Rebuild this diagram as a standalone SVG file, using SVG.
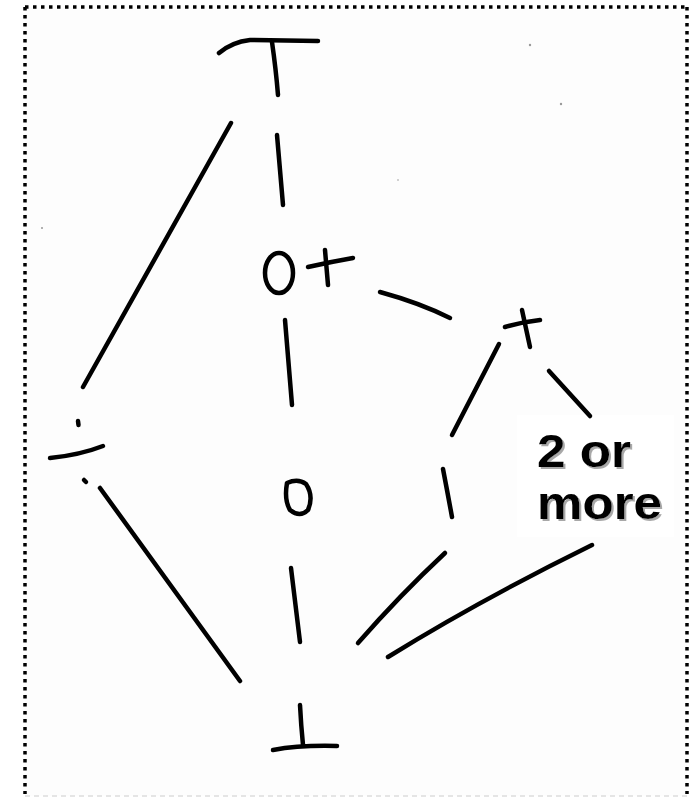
<svg xmlns="http://www.w3.org/2000/svg" width="691" height="797" viewBox="0 0 691 797">
<defs>
<filter id="sh" x="-10%" y="-10%" width="130%" height="140%">
<feOffset in="SourceAlpha" dx="2" dy="2" result="o"/>
<feFlood flood-color="#a8a8a8"/>
<feComposite in2="o" operator="in" result="s"/>
<feMerge><feMergeNode in="s"/><feMergeNode in="SourceGraphic"/></feMerge>
</filter>
</defs>
<style>
.ink{fill:none;stroke:#000;stroke-width:4.5;stroke-linecap:round;stroke-linejoin:round}
.lbl{font-family:"Liberation Sans",Arial,sans-serif;font-weight:bold;font-size:46px;fill:#000}
</style>
<rect width="691" height="797" fill="#fff"/>
<rect x="25" y="8" width="662" height="788" fill="#fdfdfd"/>
<g fill="none" stroke="#000" stroke-width="3.5" stroke-dasharray="3.5 4.5">
<line x1="25" y1="7" x2="687" y2="7"/>
<line x1="25" y1="7" x2="25" y2="794"/>
<line x1="687" y1="7" x2="687" y2="794"/>
</g>
<line x1="25" y1="796" x2="687" y2="796" stroke="#ccc" stroke-width="1" stroke-dasharray="5 4"/>
<g id="top" class="ink">
<path d="M219,53 Q232,42 250,40 L318,41"/>
<path d="M272,42 Q276,70 278,95"/>
</g>
<g id="div" class="ink">
<path d="M78,421 L78.5,425"/>
<path d="M50,458 Q80,455 103,446"/>
<path d="M84,480 L86,482"/>
</g>
<g id="zeroplus" class="ink">
<ellipse cx="279" cy="273" rx="14" ry="20"/>
<path d="M308,267 Q330,262 353,258"/>
<path d="M325,250 L328,285"/>
</g>
<g id="plus" class="ink">
<path d="M505,327 Q522,322 540,320"/>
<path d="M522,310 L530,347"/>
</g>
<g id="zero" class="ink">
<path d="M287,483 Q284,500 290,510 Q300,518 308,510 Q314,496 306,484 Q298,478 287,483 Z"/>
</g>
<g id="one" class="ink">
<path d="M443,469 Q448,495 452,517"/>
</g>
<g id="twoormore">
<rect x="517" y="415" width="157" height="122" fill="#fff"/>
<text class="lbl" filter="url(#sh)" x="537" y="467" textLength="94" lengthAdjust="spacingAndGlyphs">2 or</text>
<text class="lbl" filter="url(#sh)" x="537" y="519" textLength="125" lengthAdjust="spacingAndGlyphs">more</text>
</g>
<g id="bottom" class="ink">
<path d="M300,705 Q301,725 303,745"/>
<path d="M273,750 Q300,745 337,746"/>
</g>
<g id="connectors" class="ink">
<path d="M277,135 Q280,170 283,205"/>
<path d="M231,123 L83,387"/>
<path d="M100,488 L240,681"/>
<path d="M380,292 Q420,303 450,318"/>
<path d="M285,320 L292,405"/>
<path d="M291,568 L300,642"/>
<path d="M499,344 L452,435"/>
<path d="M549,371 L590,416"/>
<path d="M445,553 Q400,595 358,643"/>
<path d="M592,545 Q480,600 388,657"/>
</g>
<g fill="#999">
<circle cx="530" cy="45" r="1.2"/>
<circle cx="561" cy="104" r="1.2"/>
<circle cx="42" cy="228" r="1"/>
<circle cx="398" cy="180" r="0.8"/>
</g>
</svg>
